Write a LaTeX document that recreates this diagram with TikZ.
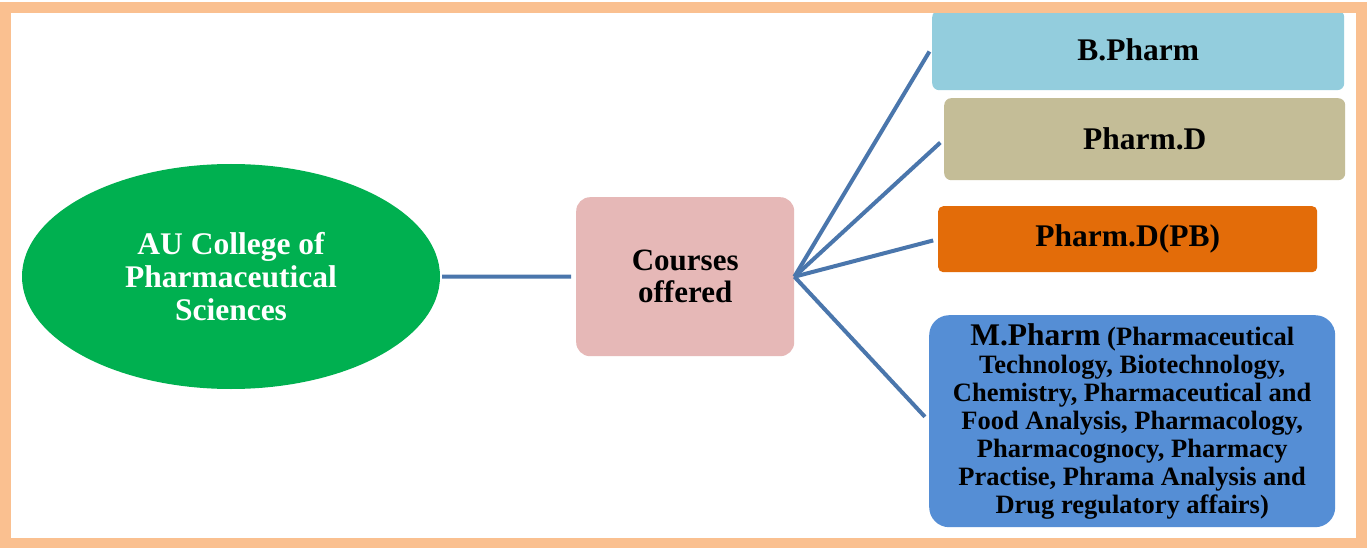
\documentclass[tikz,border=0pt]{standalone}
\usepackage{fontspec}
\setmainfont{Liberation Serif}
\usetikzlibrary{shapes.geometric}
\definecolor{frameor}{RGB}{250,192,144}
\definecolor{ellgreen}{RGB}{0,176,80}
\definecolor{cpink}{RGB}{230,184,183}
\definecolor{bblue}{RGB}{147,205,221}
\definecolor{dtan}{RGB}{196,189,151}
\definecolor{porange}{RGB}{227,108,9}
\definecolor{mblue}{RGB}{85,142,213}
\definecolor{conn}{RGB}{74,118,172}
\tikzset{
  box/.style={rectangle, inner sep=0pt, anchor=north west, align=center,
    font=\bfseries\fontsize{31.5}{33}\selectfont},
  link/.style={draw=conn, line width=4pt},
}
\begin{document}
\begin{tikzpicture}[x=1pt,y=-1pt]
\useasboundingbox (0,0) rectangle (1367,548);
\fill[white] (0,0) rectangle (1367,548);
% nodes
\node[ellipse, fill=ellgreen, minimum width=418pt, minimum height=225pt, inner sep=0pt,
  text=white, align=center, font=\bfseries\fontsize{31.5}{33}\selectfont]
  (college) at (231,276.5) {AU College of\\Pharmaceutical\\Sciences};
\node[box, fill=cpink, rounded corners=14pt, minimum width=218pt, minimum height=159pt,
  font=\bfseries\fontsize{31}{32}\selectfont]
  (courses) at (576,197) {Courses\\offered};
\node[box, fill=bblue, rounded corners=7pt, minimum width=412pt, minimum height=80pt]
  (bpharm) at (932,10) {\raisebox{-6pt}{B.Pharm}};
\node[box, fill=dtan, rounded corners=7pt, minimum width=401pt, minimum height=82pt]
  (pharmd) at (944,98) {Pharm.D};
\node[box, fill=porange, rounded corners=5pt, minimum width=379pt, minimum height=66pt]
  (pharmdpb) at (938,206) {Pharm.D(PB)};
\node[box, fill=mblue, rounded corners=20pt, minimum width=406pt, minimum height=212pt,
  font=\bfseries\fontsize{26.5}{28}\selectfont]
  (mpharm) at (929,315) {{\fontsize{31.5}{28}\selectfont M.Pharm} (Pharmaceutical\\
  Technology, Biotechnology,\\
  Chemistry, Pharmaceutical and\\
  Food Analysis, Pharmacology,\\
  Pharmacognocy, Pharmacy\\
  Practise, Phrama Analysis and\\
  Drug regulatory affairs)};
% connectors
\draw[link, shorten <=2pt, shorten >=5pt] (college.east) -- (courses.west);
\draw[link, shorten >=5pt] (courses.east) -- ([yshift=3pt]bpharm.west);
\draw[link, shorten >=5pt] (courses.east) -- (pharmd.west);
\draw[link, shorten >=5pt] (courses.east) -- (pharmdpb.west);
\draw[link, shorten >=6pt] (courses.east) -- (mpharm.west);
% frame
\draw[frameor, line width=11pt] (5,8) rectangle (1361.5,543);
\end{tikzpicture}
\end{document}
